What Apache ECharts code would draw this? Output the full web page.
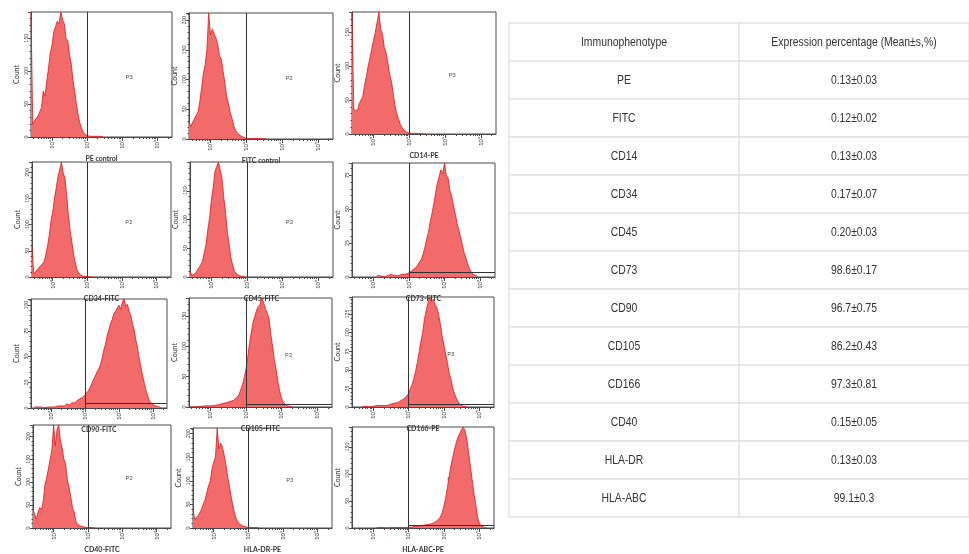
<!DOCTYPE html>
<html>
<head>
<meta charset="utf-8">
<script src="https://cdn.jsdelivr.net/npm/echarts@6/dist/echarts.min.js"></script>
<style>html,body{margin:0;padding:0;background:#fff}#main{width:969px;height:554px}</style>
</head>
<body>
<div id="main"></div>
<script>
// flow cytometry histograms, counts per 0.05 log10 bin
var panelNames = ['PE control','FITC control','CD14-PE','CD34-FITC','CD45-FITC','CD73-FITC','CD90-FITC','CD105-FITC','CD166-PE','CD40-FITC','HLA-DR-PE','HLA-ABC-PE'];
var gateNames = ['P3','P2','P3','P2','P2','P2','P2','P2','P3','P2','P3','P2'];
var binWidth = 0.05;
var binStart = [1.4,1.4,1.4,1.4,1.4,2.1,1.5,1.45,1.7,1.4,1.4,2.1];

var peControl = [190,19,25,22,32,30,45,70,62,85,105,128,140,160,168,176,172,190,178,172,150,146,125,110,85,68,48,32,20,12,7,4,2,2,1,1,1,1,1,1,1,0];
var fitcControl = [30,21,28,25,40,45,62,85,110,125,150,212,175,185,188,170,160,140,135,115,95,72,60,45,35,22,15,10,7,5,3,2,2,1,1,1,1,1,1,1,1,1,1,0];
var cd14 = [180,36,38,34,45,50,55,72,85,100,112,125,138,150,165,180,155,148,128,120,105,88,78,60,42,30,22,14,9,6,4,2,2,1,1,1,0,1,1,0,1,0];
var cd34 = [60,6,10,12,18,17,25,30,42,60,80,108,125,150,170,192,205,220,200,190,160,120,90,68,45,28,14,8,4,2,1,1,1,1,0,1,0];
var cd45 = [10,3,4,6,11,13,21,27,42,56,82,102,133,155,183,192,200,186,172,138,112,78,57,33,21,10,6,3,2,1,1,0];
var cd73 = [1,0,1,1,0,1,1,1,2,1,1,2,1,2,2,2,2,3,3,4,5,5,7,9,11,13,17,22,28,33,41,47,54,62,69,74,79,76,84,75,73,64,60,53,47,40,35,30,24,18,14,10,6,4,2,1,1,0];
var cd90 = [1,0,1,0,1,1,0,1,1,1,1,2,1,2,2,2,2,3,2,4,4,3,5,6,5,7,6,9,10,11,13,14,17,20,24,28,31,35,38,42,48,56,62,70,76,82,86,92,94,97,100,96,103,106,99,101,94,90,82,76,66,58,48,40,31,24,17,12,7,5,3,2,2,1,1,0];
var cd105 = [1,1,0,1,1,1,1,1,2,1,2,2,2,3,3,4,4,5,6,6,7,8,9,9,11,14,16,20,28,36,48,62,82,105,122,140,150,160,166,170,180,172,162,155,146,120,100,78,62,42,26,15,8,5,2,1,1,0];
var cd166 = [1,0,1,1,0,1,1,1,2,1,2,2,2,3,2,3,4,3,5,4,6,7,9,10,12,15,18,24,30,38,48,60,74,88,100,118,130,140,148,142,145,138,134,125,112,96,84,72,60,46,38,26,18,12,7,4,2,1,1,0];
var cd40 = [40,30,20,35,45,40,60,95,110,130,150,170,225,180,215,225,190,175,150,140,105,90,68,45,35,15,8,5,4,3,2,2,1,1,1,1,0];
var hlaDr = [40,18,20,26,25,40,52,60,75,90,100,125,140,150,212,168,180,172,155,135,110,90,68,48,32,20,13,8,5,4,3,2,2,1,1,1,1,1,0];
var hlaAbc = [1,0,1,0,1,1,0,1,1,1,1,1,1,1,1,1,1,1,1,2,2,3,3,4,4,5,5,5,6,6,7,8,9,11,13,16,20,28,40,55,75,95,115,130,145,158,168,175,182,187,180,165,140,115,90,65,45,22,10,4,2,1,0];
var counts = [peControl,fitcControl,cd14,cd34,cd45,cd73,cd90,cd105,cd166,cd40,hlaDr,hlaAbc];

var yMax = [190,212,180,220,200,84,106,180,148,225,212,187];
var yStep = [50,50,50,50,50,25,25,50,25,50,50,50];
var gateCut = 3;               // 10^3
var gateLevel = [null,null,null,null,null,3.5,5,4.5,4,null,null,4.5];
var decades = [2,3,4,5];
var decadeLabels = ['10²','10³','10⁴','10⁵'];

// table
var tableHead = ['Immunophenotype','Expression percentage (Mean±s,%)'];
var markers = ['PE','FITC','CD14','CD34','CD45','CD73','CD90','CD105','CD166','CD40','HLA-DR','HLA-ABC'];
var expression = ['0.13±0.03','0.12±0.02','0.13±0.03','0.17±0.07','0.20±0.03','98.6±0.17','96.7±0.75','86.2±0.43','97.3±0.81','0.15±0.05','0.13±0.03','99.1±0.3'];

var xMin = 1.4, xMax = 5.42;
var boxes = [[31,12,141,125],[189,13,144,126],[352,12,144,122],
             [32,162,139,115],[190,162,143,115],[352,163,143,114],
             [31,299,136,109],[189,298,143,109],[352,297,142,110],
             [33,425,138,114],[193,428,139,109],[352,427,142,112]];

var minorTicks = [];
for (var d = 1; d <= 5; d++) {
  for (var k = 2; k <= 9; k++) {
    var v = d + Math.log10(k);
    if (v > xMin && v < xMax) minorTicks.push(v);
  }
}

var axisCol = '#4a4a4a';
var histFont = 'Lato, "Open Sans", sans-serif';
var option = {animation:false, grid:[], xAxis:[], yAxis:[], series:[]};

counts.forEach(function (arr, i) {
  var b = boxes[i];
  option.grid.push({left:b[0], top:b[1], width:b[2], height:b[3], show:true,
    borderColor:axisCol, borderWidth:1, backgroundColor:'#fff'});
  option.xAxis.push({
    gridIndex:i, type:'value', min:xMin, max:xMax, position:'bottom',
    axisLine:{show:true, onZero:false, lineStyle:{color:axisCol}},
    axisTick:{show:true, customValues:decades, length:4, lineStyle:{color:axisCol}},
    axisLabel:{customValues:decades, rotate:90, fontSize:6, color:'#333', margin:3, fontFamily:histFont,
      formatter:function (v) { return decadeLabels[decades.indexOf(Math.round(v))]; }},
    splitLine:{show:false},
    name:panelNames[i], nameLocation:'middle', nameGap:18,
    nameTextStyle:{fontSize:7, color:'#333', fontWeight:'bold', fontFamily:histFont}
  });
  option.xAxis.push({
    gridIndex:i, type:'value', min:xMin, max:xMax, position:'bottom',
    axisLine:{show:false}, axisLabel:{show:false}, splitLine:{show:false},
    axisTick:{show:true, customValues:minorTicks, length:2, lineStyle:{color:axisCol}}
  });
  option.yAxis.push({
    gridIndex:i, type:'value', min:0, max:yMax[i], interval:yStep[i],
    axisLine:{show:true, lineStyle:{color:axisCol}},
    axisTick:{show:true, length:3, lineStyle:{color:axisCol}},
    minorTick:{show:true, splitNumber:5, length:1.5, lineStyle:{color:axisCol}},
    axisLabel:{rotate:90, fontSize:5, color:'#333', margin:2, showMaxLabel:false, fontFamily:histFont},
    splitLine:{show:false},
    name:'Count', nameLocation:'middle', nameGap:11,
    nameTextStyle:{fontSize:7, color:'#333', fontFamily:histFont}
  });

  var pts = arr.map(function (c, j) { return [binStart[i] + j * binWidth, c]; });
  var gateLines = [{xAxis:gateCut}];
  if (gateLevel[i] != null) gateLines.push([{coord:[gateCut, gateLevel[i]]}, {coord:[xMax, gateLevel[i]]}]);
  option.series.push({
    type:'line', xAxisIndex:2 * i, yAxisIndex:i, data:pts, showSymbol:false, symbol:'none',
    lineStyle:{color:'#e3161d', width:0.8},
    areaStyle:{color:'#f36a6a', opacity:1},
    markLine:{silent:true, symbol:['none','none'], label:{show:false},
      lineStyle:{color:'#333', width:1, type:'solid'}, data:gateLines}
  });
  option.series.push({
    type:'scatter', xAxisIndex:2 * i, yAxisIndex:i, symbolSize:0, silent:true,
    data:[[4.2, yMax[i] * 0.48]],
    label:{show:true, position:'inside', formatter:gateNames[i], fontSize:6, color:'#222', fontFamily:histFont}
  });
});

// table grid
var rows = [tableHead].concat(markers.map(function (m, i) { return [m, expression[i]]; }));
var cells = [];
var cellText = [];
rows.forEach(function (r, ri) {
  r.forEach(function (t, ci) { cells.push([ci, ri]); cellText.push(t); });
});
option.grid.push({left:509, top:23, width:461, height:494, show:false});
option.xAxis.push({gridIndex:12, type:'value', min:0, max:2, show:false});
option.yAxis.push({gridIndex:12, type:'value', min:0, max:rows.length, inverse:true, show:false});
option.series.push({
  type:'custom', xAxisIndex:24, yAxisIndex:12, data:cells, silent:true,
  renderItem:function (params, api) {
    var p0 = api.coord([api.value(0), api.value(1)]);
    var p1 = api.coord([api.value(0) + 1, api.value(1) + 1]);
    return {type:'group', children:[
      {type:'rect', shape:{x:p0[0], y:p0[1], width:p1[0] - p0[0], height:p1[1] - p0[1]},
        style:{fill:'#fff', stroke:'#e2e2e2', lineWidth:1.3}},
      {type:'text', x:(p0[0] + p1[0]) / 2, y:(p0[1] + p1[1]) / 2, scaleX:0.8,
        style:{text:cellText[params.dataIndex], x:0, y:0,
        align:'center', verticalAlign:'middle', fill:'#333', fontSize:13,
        fontFamily:'"Liberation Sans", Arial, sans-serif'}}
    ]};
  }
});

var myChart = echarts.init(document.getElementById('main'));
myChart.setOption(option);
window.addEventListener('resize', function () { myChart.resize(); });
</script>
</body>
</html>
